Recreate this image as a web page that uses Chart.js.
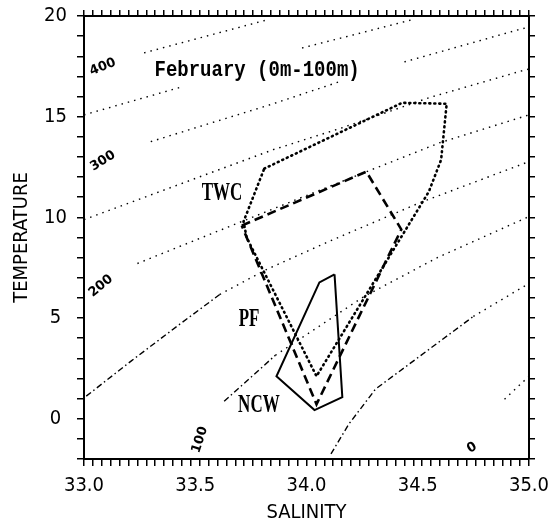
<!DOCTYPE html>
<html>
<head>
  <meta charset="utf-8">
  <title>T-S Diagram, February</title>
  <script src="https://cdn.jsdelivr.net/npm/chart.js"></script>
  <style>
    html, body { margin: 0; padding: 0; background: #ffffff; }
    .chart-wrapper { width: 549px; height: 523px; }
  </style>
</head>
<body>
  <div class="chart-wrapper"><canvas id="tsChart"></canvas></div>

  <script>
    // axes
    const salRange = [33.0, 35.0];
    const tempRange = [-2, 20];
    const salMinorStep = 0.04;
    const salLabels = [33.0, 33.5, 34.0, 34.5, 35.0];
    const tempLabels = [0, 5, 10, 15, 20];

    // water mass envelopes (salinity, temperature), closed polygons
    const twcSal  = [33.81, 34.43, 34.63, 34.605, 34.55, 34.045, 33.731, 33.717, 33.81];
    const twcTemp = [12.42, 15.69, 15.64, 12.86, 11.28, 2.11, 9.00, 9.79, 12.42];
    const pfSal   = [33.709, 34.269, 34.426, 34.045, 33.709];
    const pfTemp  = [9.59, 12.27, 9.40, 0.72, 9.59];
    const ncwSal  = [34.126, 34.058, 33.865, 34.036, 34.161, 34.126];
    const ncwTemp = [7.17, 6.77, 2.11, 0.43, 1.07, 7.17];

    // thermosteric anomaly isolines, null = break in the line
    const iso400Sal  = [33.27, 33.82];
    const iso400Temp = [18.17, 19.80];
    const iso350Sal  = [33.00, 33.44, null, 33.98, 34.47];
    const iso350Temp = [15.09, 16.48, null, 18.41, 19.80];
    const iso300Sal  = [33.30, 33.85, 34.16, null, 34.44, 34.95, 35.00];
    const iso300Temp = [13.76, 15.64, 16.78, null, 17.72, 19.31, 19.45];
    const iso250Sal  = [33.00, 33.85, 34.16, 34.55, 34.95, 35.00];
    const iso250Temp = [9.89, 13.36, 14.45, 15.94, 17.22, 17.37];
    const iso200Sal  = [33.24, 34.01, 34.60, 35.00];
    const iso200Temp = [7.71, 11.13, 13.71, 15.09];
    const iso150Sal  = [33.01, 33.21, 33.43, 33.61, 33.82, 34.10, 34.51, 35.00];
    const iso150Temp = [1.12, 2.85, 4.69, 6.17, 7.41, 8.80, 10.73, 12.77];
    const iso100Sal  = [33.63, 33.86, 34.26, 34.59, 35.00];
    const iso100Temp = [0.87, 3.15, 6.08, 8.01, 10.04];
    const iso50Sal   = [34.11, 34.19, 34.31, 34.75, 35.00];
    const iso50Temp  = [-1.75, -0.27, 1.47, 5.08, 6.72];
    const iso0Sal    = [34.89, 35.00];
    const iso0Temp   = [0.97, 2.11];

    const DOTS = [1.5, 5];
    const DASH_DOT = [6, 3, 1.5, 3];

    function pieces(sal, temp) {
      const out = [];
      let cur = [];
      sal.forEach((s, i) => {
        if (s === null) { if (cur.length) out.push(cur); cur = []; }
        else cur.push({ x: s, y: temp[i] });
      });
      if (cur.length) out.push(cur);
      return out;
    }

    function isoline(sal, temp, dashDotBelow) {
      return pieces(sal, temp).map(pts => ({
        data: pts,
        showLine: true,
        pointRadius: 0,
        borderColor: '#000',
        borderWidth: 1.4,
        borderDash: DOTS,
        segment: {
          borderDash: c => (c.p0.parsed.y < dashDotBelow ? DASH_DOT : DOTS)
        }
      }));
    }

    function envelope(sal, temp, width, dash) {
      return {
        data: sal.map((s, i) => ({ x: s, y: temp[i] })),
        showLine: true,
        pointRadius: 0,
        borderColor: '#000',
        borderWidth: width,
        borderDash: dash,
        borderCapStyle: dash.length && dash[0] < 2 ? 'round' : 'butt',
        borderJoinStyle: 'miter'
      };
    }

    const datasets = [
      ...isoline(iso400Sal, iso400Temp, -99),
      ...isoline(iso350Sal, iso350Temp, -99),
      ...isoline(iso300Sal, iso300Temp, -99),
      ...isoline(iso250Sal, iso250Temp, -99),
      ...isoline(iso200Sal, iso200Temp, -99),
      ...isoline(iso150Sal, iso150Temp, 5),
      ...isoline(iso100Sal, iso100Temp, 2.5),
      ...isoline(iso50Sal, iso50Temp, 3.5),
      ...isoline(iso0Sal, iso0Temp, -99),
      envelope(twcSal, twcTemp, 2.6, [1, 4]),
      envelope(pfSal, pfTemp, 2.6, [9, 5]),
      envelope(ncwSal, ncwTemp, 2, [])
    ];

    // text placed in data units
    const isoTags = [
      { text: '400', s: 33.085, t: 17.47, angle: -22 },
      { text: '300', s: 33.085, t: 12.80, angle: -32 },
      { text: '200', s: 33.076, t: 6.59, angle: -40 },
      { text: '100', s: 33.521, t: -1.05, angle: -72 },
      { text: '0', s: 34.744, t: -1.45, angle: -30 }
    ];
    const massTags = [
      { text: 'TWC', s: 33.62, t: 11.16 },
      { text: 'PF', s: 33.742, t: 4.91 },
      { text: 'NCW', s: 33.786, t: 0.64 }
    ];
    const heading = { text: 'February (0m-100m)', s: 33.778, t: 17.32 };

    const annotate = {
      id: 'annotate',
      afterDatasetsDraw(chart) {
        const { ctx, scales: { x, y } } = chart;
        ctx.save();
        ctx.fillStyle = '#000';
        ctx.textAlign = 'center';
        ctx.textBaseline = 'middle';

        isoTags.forEach(tag => {
          ctx.save();
          ctx.translate(x.getPixelForValue(tag.s), y.getPixelForValue(tag.t));
          ctx.rotate(tag.angle * Math.PI / 180);
          ctx.font = 'bold 13px "DejaVu Sans"';
          ctx.fillText(tag.text, 0, 0);
          ctx.restore();
        });

        massTags.forEach(tag => {
          ctx.save();
          ctx.translate(x.getPixelForValue(tag.s), y.getPixelForValue(tag.t));
          ctx.scale(0.85, 1.25);
          ctx.font = 'bold 20px "Liberation Serif"';
          ctx.fillText(tag.text, 0, 0);
          ctx.restore();
        });

        ctx.save();
        ctx.translate(x.getPixelForValue(heading.s), y.getPixelForValue(heading.t));
        ctx.scale(1, 1.2);
        ctx.font = 'bold 19px "Liberation Mono"';
        ctx.fillText(heading.text, 0, 0);
        ctx.restore();

        ctx.restore();
      }
    };

    const nearAny = (v, list) => list.some(l => Math.abs(v - l) < 1e-6);

    // minor salinity ticks every 0.04, plus the labelled values that fall between them
    function salTicks(scale) {
      const ticks = [];
      const n = Math.round((salRange[1] - salRange[0]) / salMinorStep);
      for (let k = 0; k <= n; k++) {
        ticks.push({ value: Math.round((salRange[0] + k * salMinorStep) * 100) / 100 });
      }
      salLabels.forEach(v => {
        if (!ticks.some(t => Math.abs(t.value - v) < 1e-6)) ticks.push({ value: v, labelOnly: true });
      });
      ticks.sort((a, b) => a.value - b.value);
      scale.ticks = ticks;
    }

    const tickFont = { family: "'DejaVu Sans Condensed', 'Liberation Sans Narrow', 'DejaVu Sans', sans-serif", size: 20 };
    const frame = { display: true, color: '#000', width: 2 };
    const tickGrid = (len) => ({
      drawOnChartArea: false, drawTicks: true, tickLength: len, color: '#000', lineWidth: 1.5,
      tickColor: c => (c.tick && c.tick.labelOnly ? 'rgba(0,0,0,0)' : '#000')
    });

    new Chart(document.getElementById('tsChart').getContext('2d'), {
      type: 'scatter',
      data: { datasets },
      options: {
        responsive: true,
        maintainAspectRatio: false,
        animation: false,
        layout: { padding: 0 },
        plugins: {
          legend: { display: false },
          tooltip: { enabled: false }
        },
        scales: {
          x: {
            type: 'linear', position: 'bottom',
            min: salRange[0], max: salRange[1],
            border: frame,
            grid: tickGrid(7),
            afterBuildTicks: salTicks,
            ticks: {
              autoSkip: false, maxRotation: 0, padding: 8,
              color: '#000', font: tickFont,
              callback: v => (nearAny(v, salLabels) ? v.toFixed(1) : '')
            },
            title: {
              display: true, text: 'SALINITY', color: '#000',
              font: { family: tickFont.family, size: 20, lineHeight: 1 },
              padding: { top: 0, bottom: 0 }
            },
            afterFit: s => { s.height = 64; s.paddingLeft = 0; s.paddingRight = 0; }
          },
          xTop: {
            type: 'linear', position: 'top',
            min: salRange[0], max: salRange[1],
            border: frame,
            grid: tickGrid(6),
            afterBuildTicks: salTicks,
            ticks: { autoSkip: false, maxRotation: 0, padding: 0, callback: () => '' },
            afterFit: s => { s.height = 16; s.paddingLeft = 0; s.paddingRight = 0; }
          },
          y: {
            type: 'linear', position: 'left',
            min: tempRange[0], max: tempRange[1],
            border: frame,
            grid: tickGrid(7),
            ticks: {
              stepSize: 1, autoSkip: false, padding: 10, crossAlign: 'center',
              color: '#000', font: tickFont,
              callback: v => (nearAny(v, tempLabels) ? String(v) : '')
            },
            title: {
              display: true, text: 'TEMPERATURE', color: '#000',
              font: { family: tickFont.family, size: 20, lineHeight: 1 },
              padding: { top: 12, bottom: 0 }
            },
            afterFit: s => { s.width = 84; s.paddingTop = 0; s.paddingBottom = 0; }
          },
          yRight: {
            type: 'linear', position: 'right',
            min: tempRange[0], max: tempRange[1],
            border: frame,
            grid: tickGrid(6),
            ticks: { stepSize: 1, autoSkip: false, padding: 0, callback: () => '' },
            afterFit: s => { s.width = 20; s.paddingTop = 0; s.paddingBottom = 0; }
          }
        }
      },
      plugins: [annotate]
    });
  </script>
</body>
</html>
